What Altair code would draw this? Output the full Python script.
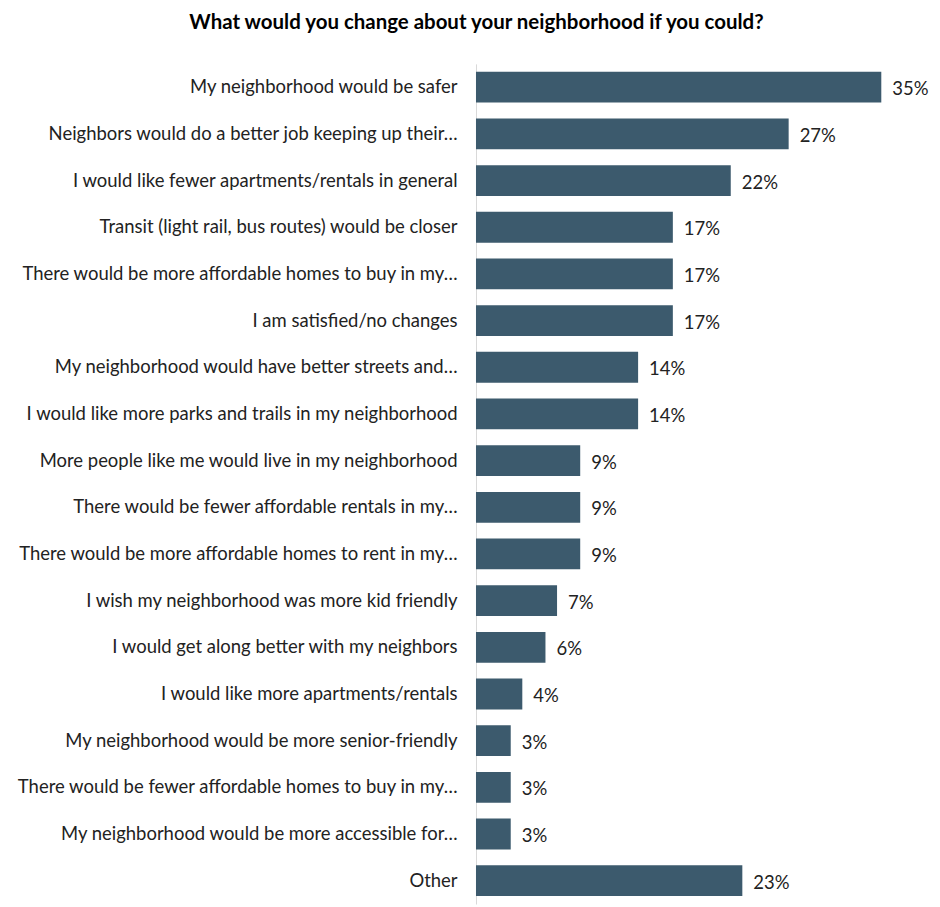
import altair as alt
import pandas as pd

categories = [
    "My neighborhood would be safer",
    "Neighbors would do a better job keeping up their…",
    "I would like fewer apartments/rentals in general",
    "Transit (light rail, bus routes) would be closer",
    "There would be more affordable homes to buy in my…",
    "I am satisfied/no changes",
    "My neighborhood would have better streets and…",
    "I would like more parks and trails in my neighborhood",
    "More people like me would live in my neighborhood",
    "There would be fewer affordable rentals in my…",
    "There would be more affordable homes to rent in my…",
    "I wish my neighborhood was more kid friendly",
    "I would get along better with my neighbors",
    "I would like more apartments/rentals",
    "My neighborhood would be more senior-friendly",
    "There would be fewer affordable homes to buy in my…",
    "My neighborhood would be more accessible for…",
    "Other",
]
values = [0.35, 0.27, 0.22, 0.17, 0.17, 0.17, 0.14, 0.14, 0.09, 0.09, 0.09, 0.07, 0.06, 0.04, 0.03, 0.03, 0.03, 0.23]

df = pd.DataFrame({"category": categories, "value": values})

FONT = "Lato"
BAR = "#3c5a6d"

y = alt.Y(
    "category:N",
    sort=categories,
    title=None,
    scale=alt.Scale(paddingInner=0.34, paddingOuter=0.17),
    axis=alt.Axis(
        domain=True,
        domainColor="#d9d9d9",
        ticks=False,
        labelFont=FONT,
        labelFontSize=18.5,
        labelColor="#222222",
        labelPadding=19,
        labelLimit=600,
    ),
)
x = alt.X("value:Q", scale=alt.Scale(domain=[0, 0.38]), axis=None)

bars = alt.Chart(df).mark_bar(color=BAR).encode(x=x, y=y)
labels = alt.Chart(df).mark_text(
    align="left", baseline="middle", dx=11, dy=2, font=FONT, fontSize=18.5, color="#222222"
).encode(x=x, y=y, text=alt.Text("value:Q", format=".0%"))

chart = (
    alt.layer(bars, labels)
    .properties(
        width=441,
        height=842,
        autosize=alt.AutoSizeParams(type="none"),
        padding={"left": 469, "top": 55, "right": 16, "bottom": 10},
        title=alt.TitleParams(
            "What would you change about your neighborhood if you could?",
            font=FONT,
            fontSize=20.5,
            fontWeight="bold",
            color="#000000",
            anchor="middle",
            frame="group",
            offset=30,
            dx=-220,
        ),
    )
    .configure_view(stroke=None)
)

chart.save("out.html", embed_options={"renderer": "svg", "actions": False})
